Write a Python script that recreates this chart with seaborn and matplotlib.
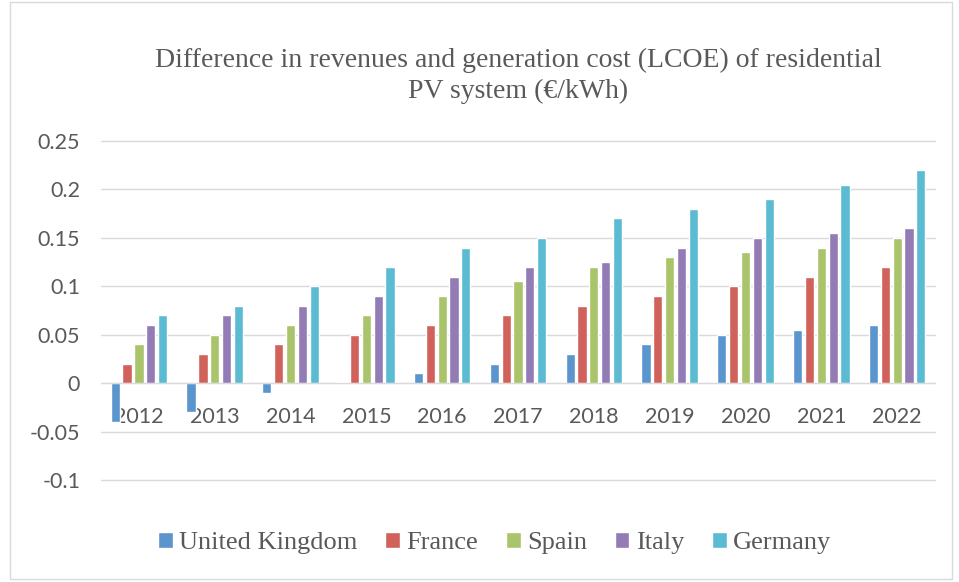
import pandas as pd
import matplotlib.pyplot as plt
import seaborn as sb
from matplotlib.patches import Rectangle

# dados
anos = ['2012', '2013', '2014', '2015', '2016', '2017', '2018', '2019', '2020', '2021', '2022']
paises = ['United Kingdom', 'France', 'Spain', 'Italy', 'Germany']
uk = [-0.04, -0.03, -0.01, 0.001, 0.01, 0.02, 0.03, 0.04, 0.05, 0.055, 0.06]
france = [0.02, 0.03, 0.04, 0.05, 0.06, 0.07, 0.08, 0.09, 0.10, 0.11, 0.12]
spain = [0.04, 0.05, 0.06, 0.07, 0.09, 0.105, 0.12, 0.13, 0.135, 0.14, 0.15]
italy = [0.06, 0.07, 0.08, 0.09, 0.11, 0.12, 0.125, 0.14, 0.15, 0.155, 0.16]
germany = [0.07, 0.08, 0.10, 0.12, 0.14, 0.15, 0.17, 0.18, 0.19, 0.205, 0.22]
cores = ['#5B95CD', '#D0625B', '#A9C46B', '#937BB5', '#5BBBD2']

#montar tabela longa
series = [uk, france, spain, italy, germany]
linhas = []
for pais, valores in zip(paises, series):
    for ano, v in zip(anos, valores):
        linhas.append({'ano': ano, 'pais': pais, 'valor': v})
dataset = pd.DataFrame(linhas)

sb.set_style('white')
cinza = '#595959'

fig = plt.figure(figsize=(9.59, 5.82), dpi=100)
ax = fig.add_axes([0.1053, 0.1753, 0.8697, 0.5824])

sb.barplot(data=dataset, x='ano', y='valor', hue='pais', hue_order=paises,
           palette=cores, width=0.78, gap=0.22, ax=ax, saturation=1, legend=True)

ax.set_ylim(-0.1, 0.25)
ax.set_yticks([-0.1, -0.05, 0, 0.05, 0.1, 0.15, 0.2, 0.25])
ax.set_yticklabels(['-0.1', '-0.05', '0', '0.05', '0.1', '0.15', '0.2', '0.25'])
ax.yaxis.grid(True, color='#D9D9D9', linewidth=1)
for g in ax.get_ygridlines():
    g.set_clip_on(False)
ax.set_axisbelow(True)
ax.set_xlabel('')
ax.set_ylabel('')
for s in ['top', 'right', 'left']:
    ax.spines[s].set_visible(False)
# eixo x passando pelo zero
ax.spines['bottom'].set_position(('data', 0))
ax.spines['bottom'].set_color('#D9D9D9')
ax.tick_params(axis='both', length=0, labelsize=15.5, labelcolor=cinza, labelfontfamily='Lato')
ax.tick_params(axis='x', pad=17)
ax.tick_params(axis='y', pad=15)

ax.set_title('Difference in revenues and generation cost (LCOE) of residential\nPV system (€/kWh)',
             fontfamily='Liberation Serif', fontsize=20, color=cinza, pad=31, linespacing=1.3)

# legenda embaixo
handles, labels = ax.get_legend_handles_labels()
ax.get_legend().remove()
fig.legend(handles, labels, loc='center', bbox_to_anchor=(0.516, 0.067), ncol=5, frameon=False,
           handlelength=0.55, handleheight=0.55, handletextpad=0.25, columnspacing=1.05,
           prop={'family': 'Liberation Serif', 'size': 19}, labelcolor=cinza)

#borda do grafico
fig.patches.append(Rectangle((0.0105, 0.006), 0.982, 0.99, transform=fig.transFigure,
                             fill=False, edgecolor='#D9D9D9', linewidth=1))

fig.savefig('out.png', dpi=100)
